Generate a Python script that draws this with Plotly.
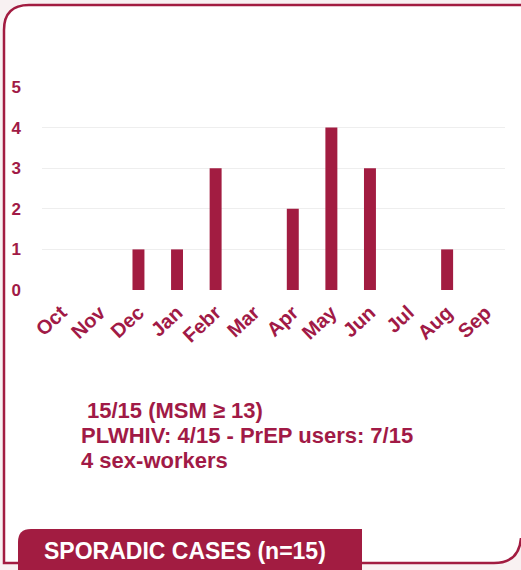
import plotly.graph_objects as go

months = ["Oct", "Nov", "Dec", "Jan", "Febr", "Mar", "Apr", "May", "Jun", "Jul", "Aug", "Sep"]
cases = [0, 0, 1, 1, 3, 0, 2, 4, 3, 0, 1, 0]
y_ticks = [0, 1, 2, 3, 4, 5]
info_lines = ["15/15 (MSM ≥ 13)", "PLWHIV: 4/15 - PrEP users: 7/15", "4 sex-workers"]
box_label = "SPORADIC CASES (n=15)"

W, H = 521, 570
L, R, T, B = 42, 16, 87, 280
PW = W - L - R
PH = H - T - B

RED = "#A21C41"
TXT = "#A11A46"
FONT = "Liberation Sans, Arial"


def px(x):
    return (x - L) / PW


def py(y):
    return (H - B - y) / PH


def pt(x, y):
    return f"{px(x):.5f},{py(y):.5f}"


fig = go.Figure()
fig.add_trace(go.Bar(x=months, y=cases, width=0.31, marker=dict(color=RED, line=dict(width=0))))

shapes = []
shapes.append(dict(
    type="path", xref="paper", yref="paper", layer="below",
    path=f"M {pt(4,562)} L {pt(4,30)} Q {pt(4,5)} {pt(29,5)} L {pt(521,5)} L {pt(521,540)} "
         f"Q {pt(519,562)} {pt(495,562)} Z",
    fillcolor="white", line=dict(width=0)))
shapes.append(dict(
    type="path", xref="paper", yref="paper", layer="above",
    path=f"M {pt(20,563)} L {pt(4,563)} L {pt(4,30)} Q {pt(4,5)} {pt(29,5)} L {pt(522,5)}",
    line=dict(color=RED, width=2.5)))
shapes.append(dict(
    type="path", xref="paper", yref="paper", layer="above",
    path=f"M {pt(360,563)} L {pt(494,563)} Q {pt(519,563)} {pt(521,538)}",
    line=dict(color=RED, width=2.5)))
shapes.append(dict(
    type="path", xref="paper", yref="paper", layer="above",
    path=f"M {pt(18,572)} L {pt(18,542)} Q {pt(18,529)} {pt(31,529)} L {pt(362,529)} L {pt(362,572)} Z",
    fillcolor=RED, line=dict(width=0)))

annotations = []
line_y = [410, 435, 460]
line_x = [85, 79, 79]
for txt, yy, xx in zip(info_lines, line_y, line_x):
    annotations.append(dict(
        text=txt, xref="paper", yref="paper", x=px(xx), y=py(yy),
        xanchor="left", yanchor="middle", showarrow=False,
        font=dict(family=FONT, size=22, color=TXT, weight="bold")))
annotations.append(dict(
    text=box_label, xref="paper", yref="paper", x=px(42), y=py(551),
    xanchor="left", yanchor="middle", showarrow=False,
    font=dict(family=FONT, size=23, color="white", weight="bold")))

fig.update_layout(
    width=W, height=H,
    margin=dict(l=L, r=R, t=T, b=B, pad=0),
    paper_bgcolor="#f8f1f2",
    plot_bgcolor="rgba(0,0,0,0)",
    showlegend=False,
    shapes=shapes,
    annotations=annotations,
    xaxis=dict(
        categoryorder="array", categoryarray=months,
        tickangle=-43, showgrid=False, zeroline=False, showline=False, ticks="",
        ticklabelstandoff=6,
        tickfont=dict(family=FONT, size=20, color=TXT, weight="bold"),
        fixedrange=True),
    yaxis=dict(
        range=[0, 5], tickvals=y_ticks, showgrid=True, gridcolor="#eeeeee", gridwidth=1,
        zeroline=False, showline=False, ticks="", ticklabelstandoff=20,
        tickfont=dict(family=FONT, size=17, color=TXT, weight="bold"),
        fixedrange=True),
)

fig.write_html(
    "out.html",
    config={"displayModeBar": False},
    post_script="document.body.style.margin='0';document.body.style.overflow='hidden';",
)
